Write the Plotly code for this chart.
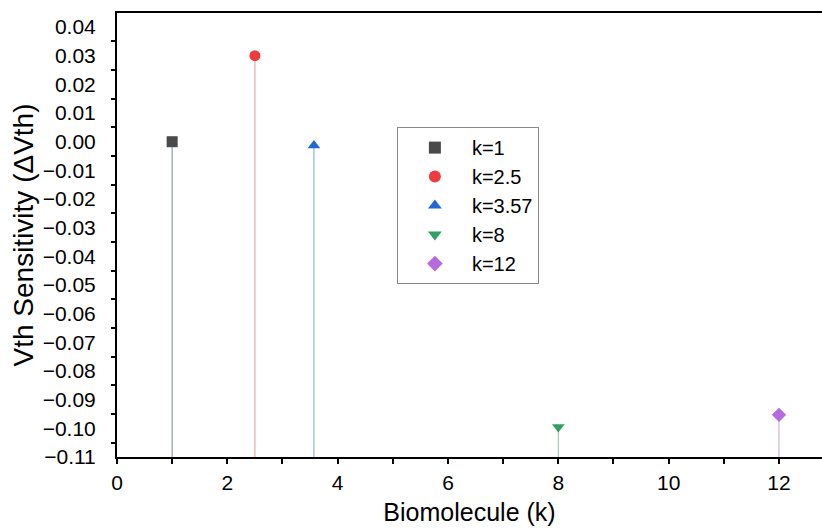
import plotly.graph_objects as go

names = ["k=1", "k=2.5", "k=3.57", "k=8", "k=12"]
k_values = [1, 2.5, 3.57, 8, 12]
sensitivity = [0.0, 0.030, -0.0013, -0.0995, -0.0953]
symbols = ["square", "circle", "triangle-up", "triangle-down", "diamond"]
colors = ["#4a4a4a", "#ee3b3f", "#2068d8", "#2fa060", "#b46ae0"]
stem_colors = ["#7b8aa0", "#e09a9a", "#7ea3cf", "#8fc6a2", "#c6a3dc"]

y_range = [-0.11, 0.0449]
x_range = [0, 12.78]

fig = go.Figure()
for n, k, v, c, sc in zip(names, k_values, sensitivity, colors, stem_colors):
    fig.add_trace(go.Scatter(x=[k, k], y=[y_range[0], v], mode="lines",
                             line=dict(color=sc, width=1), showlegend=False,
                             hoverinfo="skip"))
for n, k, v, s, c in zip(names, k_values, sensitivity, symbols, colors):
    fig.add_trace(go.Scatter(x=[k], y=[v], mode="markers", name=n,
                             marker=dict(symbol=s, color=c, size=11)))

font = "Liberation Sans, Arial, sans-serif"
fig.update_layout(
    width=822, height=529,
    margin=dict(l=117, r=0, t=13, b=72),
    paper_bgcolor="white", plot_bgcolor="white",
    font=dict(family=font, color="black", size=21),
    legend=dict(x=0.397, y=0.743, xanchor="left", yanchor="top",
                bordercolor="#888888", borderwidth=1,
                font=dict(size=20), itemsizing="constant", itemwidth=64,
                tracegroupgap=0, bgcolor="white"),
    xaxis=dict(range=x_range, dtick=2, tick0=0, showgrid=False,
               zeroline=False, showline=True, linecolor="black", linewidth=2,
               mirror=True, ticks="outside", ticklen=5, tickwidth=2,
               tickcolor="black", automargin=False, ticklabelstandoff=1,
               minor=dict(dtick=1, ticks="outside", ticklen=5, tickwidth=2,
                          tickcolor="black", showgrid=False),
               title=dict(text="Biomolecule (k)", font=dict(size=25), standoff=10)),
    yaxis=dict(range=y_range, dtick=0.01, tick0=0, tickformat=".2f",
               showgrid=False, zeroline=False, showline=True,
               linecolor="black", linewidth=2, ticks="", automargin=False,
               ticklabelstandoff=15,
               minor=dict(dtick=0.005, tick0=0.005, ticks="outside", ticklen=4,
                          tickwidth=2, tickcolor="black", showgrid=False),
               title=dict(text="Vth Sensitivity (\u0394Vth)", font=dict(size=28),
                          standoff=1)),
)

fig.write_html("out.html", config={"displayModeBar": False})

# remove the browser's default page margin so the figure sits at (0, 0)
with open("out.html", "r", encoding="utf-8") as f:
    html = f.read()
html = html.replace("<head>", "<head><style>html,body{margin:0;padding:0;overflow:hidden;}</style>", 1)
with open("out.html", "w", encoding="utf-8") as f:
    f.write(html)
